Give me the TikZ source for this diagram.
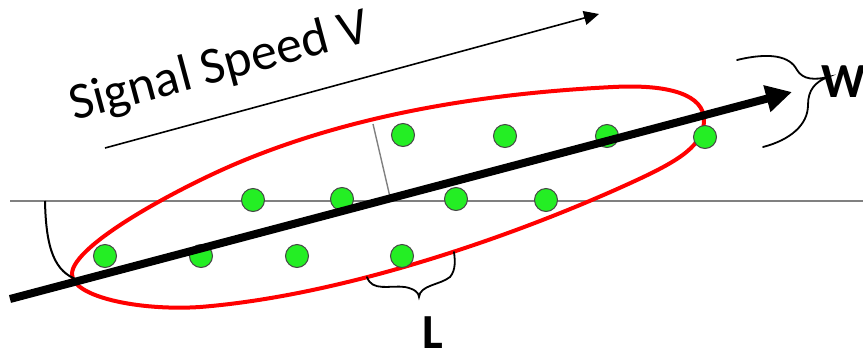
\documentclass[tikz,border=0pt]{standalone}
\usepackage{fontspec}
\setmainfont{Carlito}
\usetikzlibrary{arrows.meta}
\definecolor{dotgreen}{RGB}{36,238,36}
\definecolor{dotedge}{RGB}{70,70,70}
\definecolor{guide}{RGB}{128,128,128}
\begin{document}
\begin{tikzpicture}[x=1pt,y=-1pt,
  dot/.style={circle,minimum size=23pt,inner sep=0pt,fill=dotgreen,draw=dotedge,line width=1pt},
  guideline/.style={draw=guide,line width=1.4pt},
  redline/.style={draw=red,line width=4pt},
  mainarrow/.style={line width=8pt,-{Triangle[length=26pt,width=26pt]}},
  thinarrow/.style={line width=1.6pt,-{Triangle[length=15pt,width=14pt]}},
  bracestyle/.style={line width=1.8pt,line cap=round},
  lbl/.style={inner sep=0pt,font=\fontsize{49}{49}\selectfont\bfseries}]
\useasboundingbox (0,0) rectangle (863,354);
% horizontal reference line
\coordinate (h0) at (10,201);
\coordinate (h1) at (863,201);
\draw[guideline] (h0) -- (h1);
% red enclosing contour
\coordinate (r0) at (72,274);
\coordinate (r1) at (240,162);
\coordinate (r2) at (613,87);
\coordinate (r3) at (704,120);
\coordinate (r4) at (637,180);
\coordinate (r5) at (200,307);
\draw[redline] (r0) .. controls (72,245) and (180,187) .. (r1)
  .. controls (360,112) and (493,93) .. (r2)
  .. controls (670,84) and (704,95) .. (r3)
  .. controls (704,145) and (680,160) .. (r4)
  .. controls (527,231) and (350,295) .. (r5)
  .. controls (140,311) and (72,297) .. (r0) -- cycle;
% perpendicular gray line
\coordinate (p0) at (373,124);
\coordinate (p1) at (390,197);
\draw[guideline] (p0) -- (p1);
% angle arc
\coordinate (a0) at (45,201);
\coordinate (a1) at (78,280);
\draw[line width=2pt] (a0) .. controls (46,250) and (55,272) .. (a1);
% dots
\foreach \x/\y [count=\i] in {403/135,505/136,607/136,705/137,
  253/200,342/199,456/199,546/200,
  105/256,201/256,297/256,402/256}
  \node[dot] (d\i) at (\x,\y) {};
% main arrow
\coordinate (m0) at (10,299);
\coordinate (m1) at (792,92);
\draw[mainarrow] (m0) -- (m1);
% signal speed arrow
\coordinate (s0) at (105,148);
\coordinate (s1) at (599,14);
\draw[thinarrow] (s0) -- (s1);
\node[inner sep=0pt,anchor=base,rotate=15,font=\fontsize{52}{52}\selectfont] (sig) at (223,81) {Signal Speed V};
% W brace
\coordinate (w0) at (737,60);
\coordinate (wt) at (828,77);
\coordinate (w1) at (763,147);
\draw[bracestyle] (w0) .. controls (770,52) and (790,56) .. (797,70)
  .. controls (803,80) and (815,80) .. (wt)
  .. controls (815,82) and (808,90) .. (808,105)
  .. controls (808,125) and (790,140) .. (w1);
\node[lbl,anchor=base] (W) at (844,97) {W};
% L brace
\coordinate (l0) at (367,277);
\coordinate (lt) at (419,297);
\coordinate (l1) at (454,252);
\draw[bracestyle] (l0) .. controls (372,292) and (390,285) .. (405,287)
  .. controls (415,289) and (419,293) .. (lt)
  .. controls (420,285) and (440,285) .. (450,277)
  .. controls (456,270) and (455,260) .. (l1);
\node[lbl,anchor=base] (L) at (433,348) {L};
\end{tikzpicture}
\end{document}
